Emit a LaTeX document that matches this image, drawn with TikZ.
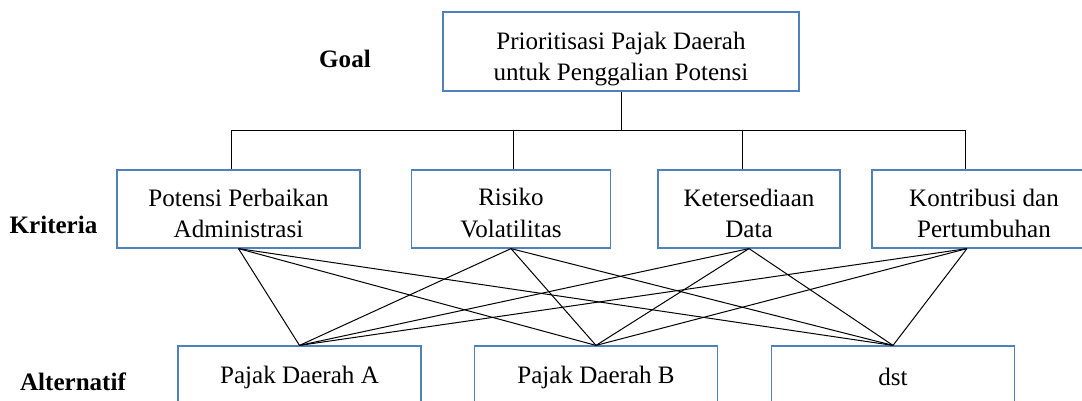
\documentclass[tikz,border=0pt]{standalone}
\usepackage{fontspec}
\setmainfont{Liberation Serif}
\definecolor{boxBlue}{RGB}{79,129,189}
\newcommand{\topgap}[1]{\rule{0pt}{#1}}
\tikzstyle{goalBox} =[draw=boxBlue,fill=white,rectangle,line width=0.9pt,minimum width=267pt,minimum height=59.25pt,inner sep=0pt,align=center]
\tikzstyle{critBox} =[draw=boxBlue,fill=white,rectangle,line width=0.9pt,minimum height=58.5pt,inner sep=0pt,align=center]
\tikzstyle{altBox}  =[draw=boxBlue,fill=white,rectangle,line width=0.9pt,minimum width=182.25pt,minimum height=46.5pt,inner sep=0pt,align=center]
\tikzstyle{levelLabel}=[inner sep=0pt,font=\fontsize{18.8}{23.3}\selectfont\bfseries]

\begin{document}
\begin{tikzpicture}[x=0.75pt,y=-0.75pt,font=\fontsize{18.8}{23.3}\selectfont,line width=0.75pt]
\clip (0,0) rectangle (1082,400);
% level names
\node [levelLabel] (lblGoal) at (345,59) {Goal};
\node [levelLabel] (lblKrit) at (53.5,224.5) {Kriteria};
\node [levelLabel] (lblAlt) at (73,381.5) {Alternatif};
% goal
\node [goalBox] (goal) at (621,51.5) {\topgap{25pt}Prioritisasi Pajak Daerah\\untuk Penggalian Potensi};
% criteria
\node [critBox,minimum width=182.25pt] (k1) at (238.5,209) {\topgap{19pt}Potensi Perbaikan\\Administrasi};
\node [critBox,minimum width=149.25pt] (k2) at (511,209) {\topgap{19pt}Risiko\\Volatilitas};
\node [critBox,minimum width=136.5pt] (k3) at (749,209) {\topgap{19pt}Ketersediaan\\Data};
\node [critBox,minimum width=168pt] (k4) at (984,209) {\topgap{19pt}Kontribusi dan\\Pertumbuhan};
% alternatives
\node [altBox] (a1) at (299.5,377) {Pajak Daerah A};
\node [altBox] (a2) at (596,377) {Pajak Daerah B};
\node [altBox] (a3) at (893,377) {dst};

\coordinate (bus) at (621,130);
\draw (goal.south) -- (bus);
\draw (bus) -| ([xshift=-4.9pt]k1.north);
\draw (bus) -| ([xshift=1.5pt]k2.north);
\draw (bus) -| ([xshift=-5.2pt]k3.north);
\draw (bus) -| ([xshift=-14pt]k4.north);

\coordinate (k4bot) at ([xshift=-12.75pt]k4.south);
\foreach \k in {k1.south,k2.south,k3.south,k4bot}
  \foreach \a in {a1,a2,a3}
    \draw (\k) -- (\a.north);
\end{tikzpicture}
\end{document}
